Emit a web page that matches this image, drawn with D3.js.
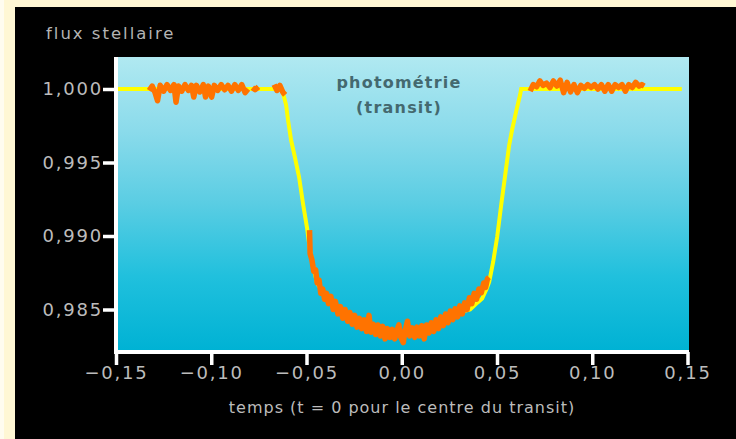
<!DOCTYPE html>
<html>
<head>
<meta charset="utf-8">
<script src="https://cdn.jsdelivr.net/npm/d3@7"></script>
<style>
  html, body { margin: 0; padding: 0; background: #000; }
  svg { display: block; }
  .tick text { font-family: "DejaVu Sans", sans-serif; font-size: 18px; fill: #bcbcbc; letter-spacing: 1.8px; }
</style>
</head>
<body>
<svg id="chart" width="736" height="439"></svg>
<script>
// Tick values of both axes
const xTicks = [-0.15, -0.10, -0.05, 0.00, 0.05, 0.10, 0.15];
const yTicks = [0.985, 0.990, 0.995, 1.000];

// Fitted transit model (yellow)
const modelTime = [-0.150, -0.0629, -0.0618, -0.0607, -0.0597, -0.0581, -0.0560, -0.0539, -0.0518, -0.0497,
  -0.0482, -0.0466, -0.0445, -0.0420, -0.0400, -0.0350, -0.0300, -0.0250, -0.0200, -0.0150, -0.0100, -0.0050,
  0.0000, 0.0050, 0.0100, 0.0150, 0.0200, 0.0250, 0.0300, 0.0359, 0.0400, 0.0422, 0.0445, 0.0459, 0.0480,
  0.0501, 0.0522, 0.0543, 0.0564, 0.0579, 0.0600, 0.0621, 0.0627, 0.147];
const modelFlux = [1.0000, 1.0000, 0.99946, 0.99891, 0.99789, 0.99653, 0.99531, 0.99401, 0.99218, 0.99054,
  0.98905, 0.98800, 0.98680, 0.98630, 0.98600, 0.98530, 0.98480, 0.98440, 0.98410, 0.98380, 0.98360, 0.98347,
  0.98340, 0.98347, 0.98360, 0.98380, 0.98410, 0.98440, 0.98480, 0.98500, 0.98550, 0.98575, 0.98640, 0.98687, 0.98825,
  0.98995, 0.99211, 0.99415, 0.99619, 0.99721, 0.99844, 0.99959, 1.0000, 1.0000];

// Photometric measurements (orange); null marks a gap in the series
const obsTime = [
  -0.1326, -0.1310, -0.1295, -0.1282, -0.1268, -0.1250, -0.1232, -0.1214, -0.1196, -0.1185,
  -0.1172, -0.1155, -0.1138, -0.1120, -0.1104, -0.1092, -0.1078, -0.1060, -0.1042, -0.1030,
  -0.1015, -0.0998, -0.0984, -0.0966, -0.0948, -0.0930, -0.0912, -0.0894, -0.0876, -0.0858,
  -0.0840, -0.0822, -0.0807, null,
  -0.0784, -0.0770, -0.0752, null,
  -0.0670, -0.0655, -0.0640, -0.0625, -0.0612, null,
  -0.0484, -0.0481, -0.0472, -0.0462, -0.0452, -0.0444, -0.0434, -0.0425, -0.0415, -0.0405,
  -0.0395, -0.0385, -0.0372, -0.0360, -0.0348, -0.0335, -0.0322, -0.0310, -0.0297, -0.0284,
  -0.0272, -0.0260, -0.0247, -0.0235, -0.0222, -0.0210, -0.0197, -0.0185, -0.0172, -0.0162,
  -0.0150, -0.0137, -0.0125, -0.0112, -0.0100, -0.0088, -0.0075, -0.0062, -0.0050, -0.0037,
  -0.0025, -0.0015, -0.0005, 0.0008, 0.0018, 0.0030, 0.0042, 0.0055, 0.0068, 0.0080,
  0.0093, 0.0105, 0.0118, 0.0130, 0.0143, 0.0155, 0.0168, 0.0180, 0.0193, 0.0205,
  0.0218, 0.0230, 0.0243, 0.0255, 0.0268, 0.0280, 0.0293, 0.0305, 0.0318, 0.0330,
  0.0343, 0.0355, 0.0368, 0.0380, 0.0393, 0.0405, 0.0418, 0.0430, 0.0440, 0.0450, 0.0458, null,
  0.0674, 0.0690, 0.0708, 0.0725, 0.0742, 0.0760, 0.0778, 0.0796, 0.0814, 0.0832,
  0.0850, 0.0868, 0.0886, 0.0904, 0.0922, 0.0940, 0.0958, 0.0976, 0.0994, 0.1012,
  0.1030, 0.1048, 0.1066, 0.1084, 0.1102, 0.1120, 0.1138, 0.1156, 0.1174, 0.1192,
  0.1210, 0.1228, 0.1246, 0.1260, 0.1273];
const obsFlux = [
  0.99990, 1.00020, 0.99975, 0.99920, 1.00025, 0.99985, 1.00030, 0.99990, 1.00030, 0.99910,
  1.00020, 0.99985, 1.00030, 0.99990, 1.00025, 0.99945, 1.00025, 0.99980, 1.00030, 0.99945,
  1.00020, 0.99945, 1.00025, 0.99990, 1.00030, 0.99995, 1.00025, 0.99985, 1.00030, 0.99990,
  1.00030, 0.99975, 1.00000, null,
  1.00010, 0.99995, 1.00015, null,
  1.00030, 0.99990, 1.00025, 0.99980, 0.99960, null,
  0.99040, 0.98880, 0.98840, 0.98760, 0.98770, 0.98680, 0.98700, 0.98610, 0.98640, 0.98570,
  0.98610, 0.98540, 0.98590, 0.98500, 0.98555, 0.98470, 0.98520, 0.98440, 0.98500, 0.98420,
  0.98480, 0.98400, 0.98460, 0.98380, 0.98440, 0.98370, 0.98430, 0.98350, 0.98460, 0.98345,
  0.98400, 0.98330, 0.98395, 0.98320, 0.98385, 0.98300, 0.98370, 0.98310, 0.98365, 0.98300,
  0.98360, 0.98395, 0.98310, 0.98275, 0.98360, 0.98420, 0.98320, 0.98375, 0.98310, 0.98380,
  0.98320, 0.98390, 0.98300, 0.98395, 0.98340, 0.98410, 0.98350, 0.98430, 0.98370, 0.98450,
  0.98390, 0.98470, 0.98410, 0.98490, 0.98430, 0.98505, 0.98450, 0.98525, 0.98470, 0.98545,
  0.98500, 0.98580, 0.98540, 0.98610, 0.98570, 0.98640, 0.98615, 0.98680, 0.98650, 0.98710, 0.98720, null,
  0.99985, 1.00030, 1.00015, 1.00055, 1.00025, 1.00040, 1.00010, 1.00055, 1.00020, 1.00060,
  0.99975, 1.00045, 0.99980, 1.00030, 0.99975, 1.00025, 1.00005, 1.00030, 1.00010, 1.00030,
  1.00000, 1.00030, 0.99985, 1.00030, 0.99985, 1.00030, 1.00010, 1.00030, 0.99985, 1.00030,
  1.00010, 1.00045, 1.00020, 1.00030, 1.00020];

const W = 736, H = 439;
const plot = { left: 118, right: 689, top: 57, bottom: 350 };

const svg = d3.select("#chart");

// Page frame: black panel with a pale border on the top and left
svg.append("rect").attr("width", W).attr("height", H).attr("fill", "#000");
svg.append("rect").attr("width", W).attr("height", 7).attr("fill", "#fff7d4");
svg.append("rect").attr("width", 15).attr("height", H).attr("fill", "#fff7d4");
svg.append("rect").attr("width", 4).attr("height", H).attr("fill", "#fffcef");

const x = d3.scaleLinear().domain([-0.15, 0.15]).range([116, 687.5]);
const y = d3.scaleLinear().domain([0.985, 1.000]).range([309.5, 89]);

// Sky-blue gradient behind the plot
const defs = svg.append("defs");
const grad = defs.append("linearGradient").attr("id", "sky")
  .attr("x1", 0).attr("y1", 0).attr("x2", 0).attr("y2", 1);
[["0%", "#b0e9f1"], ["25%", "#8bdbeb"], ["50%", "#5acde3"], ["75%", "#20c0dd"], ["100%", "#00b2d4"]]
  .forEach(([o, c]) => grad.append("stop").attr("offset", o).attr("stop-color", c));

svg.append("rect")
  .attr("x", plot.left).attr("y", plot.top)
  .attr("width", plot.right - plot.left).attr("height", plot.bottom - plot.top)
  .attr("fill", "url(#sky)");

// Annotation inside the plot
const note = svg.append("text")
  .attr("font-family", "DejaVu Sans, sans-serif").attr("font-size", 16)
  .attr("font-weight", "bold")
  .attr("fill", "#44696f").attr("letter-spacing", "1.2px")
  .attr("text-anchor", "middle");
note.append("tspan").attr("x", 399).attr("y", 88).text("photométrie");
note.append("tspan").attr("x", 399).attr("y", 113).text("(transit)");

// Model curve
const modelPts = modelTime.map((t, i) => [t, modelFlux[i]]);
svg.append("path")
  .datum(modelPts)
  .attr("fill", "none").attr("stroke", "#ffff00").attr("stroke-width", 4)
  .attr("d", d3.line().x(d => x(d[0])).y(d => y(d[1])));

// Measurements
const obsPts = obsTime.map((t, i) => (t === null ? null : [t, obsFlux[i]]));
svg.append("path")
  .datum(obsPts)
  .attr("fill", "none").attr("stroke", "#ff7300").attr("stroke-width", 5.5)
  .attr("stroke-linejoin", "round")
  .attr("d", d3.line().defined(d => d !== null).x(d => x(d[0])).y(d => y(d[1])));

// Axes
const fmtX = v => (v < 0 ? "\u2212" : "") + Math.abs(v).toFixed(2).replace(".", ",");
const fmtY = v => v.toFixed(3).replace(".", ",");

const xAxis = svg.append("g")
  .attr("transform", `translate(0,${plot.bottom + 2})`)
  .call(d3.axisBottom(x).tickValues(xTicks).tickFormat(fmtX).tickSize(13).tickPadding(1).tickSizeOuter(0));
const yAxis = svg.append("g")
  .attr("transform", `translate(${plot.left - 2},0)`)
  .call(d3.axisLeft(y).tickValues(yTicks).tickFormat(fmtY).tickSize(13).tickPadding(0).tickSizeOuter(0));

[xAxis, yAxis].forEach(g => {
  g.select(".domain").remove();
  g.selectAll(".tick line").attr("stroke", "#fff").attr("stroke-width", 3.5);
});

// Axis lines
svg.append("rect").attr("x", plot.left - 4).attr("y", plot.top)
  .attr("width", 4).attr("height", plot.bottom - plot.top + 4).attr("fill", "#fff");
svg.append("rect").attr("x", plot.left - 4).attr("y", plot.bottom)
  .attr("width", plot.right - plot.left + 4).attr("height", 4).attr("fill", "#fff");

// Axis titles
svg.append("text")
  .attr("x", 46).attr("y", 39)
  .attr("font-family", "DejaVu Sans, sans-serif").attr("font-size", 16.5)
  .attr("fill", "#b4b4b4").attr("letter-spacing", "2px")
  .text("flux stellaire");

svg.append("text")
  .attr("x", 402).attr("y", 413)
  .attr("text-anchor", "middle")
  .attr("font-family", "DejaVu Sans, sans-serif").attr("font-size", 16)
  .attr("fill", "#bcbcbc").attr("letter-spacing", "1px")
  .text("temps (t = 0 pour le centre du transit)");
</script>
</body>
</html>
